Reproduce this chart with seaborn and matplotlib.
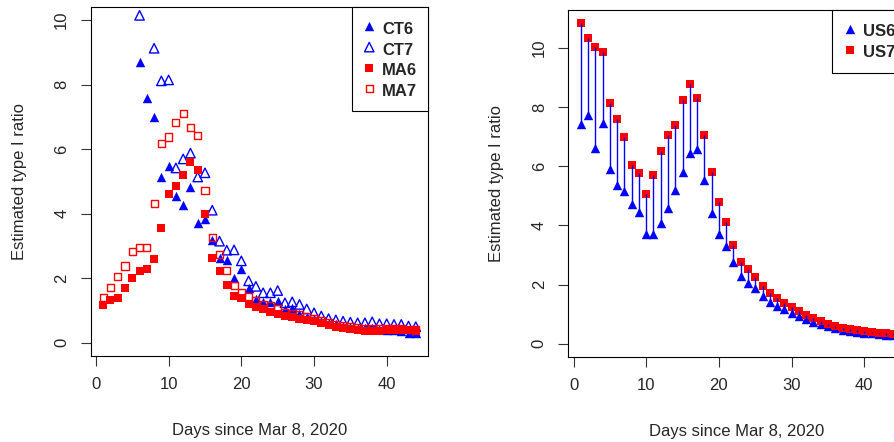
import numpy as np
import pandas as pd
import matplotlib
matplotlib.use("Agg")
import matplotlib.pyplot as plt
import seaborn as sns

nan = np.nan
days = list(range(1, 45))

ct6 = [nan, nan, nan, nan, nan, 8.71, 7.60, 7.00, 5.14, 5.47, 4.55, 4.26, 4.82, 3.72, 3.85,
       3.20, 2.64, 2.57, 2.02, 2.28, 1.70, 1.35, 1.27, 1.26, 1.29, 1.04, 1.07, 0.88, 0.81,
       0.75, 0.68, 0.62, 0.57, 0.52, 0.50, 0.47, 0.45, 0.47, 0.42, 0.40, 0.40, 0.38, 0.30, 0.30]
ct7 = [nan, nan, nan, nan, nan, 10.15, nan, 9.13, 8.12, 8.15, 5.42, 5.70, 5.88, 5.14, 5.27,
       4.11, 3.15, 2.87, 2.88, 2.54, 1.92, 1.75, 1.55, 1.55, 1.62, 1.24, 1.27, 1.19, 1.05,
       0.93, 0.83, 0.75, 0.71, 0.67, 0.64, 0.62, 0.62, 0.65, 0.59, 0.59, 0.57, 0.57, 0.52, 0.50]
ma6 = [1.17, 1.34, 1.40, 1.71, 2.02, 2.22, 2.28, 2.59, 3.56, 4.61, 4.86, 5.20, 5.60, 5.37, 3.99,
       2.63, 2.23, 1.79, 1.46, 1.40, 1.20, 1.12, 1.04, 0.95, 0.88, 0.83, 0.81, 0.75, 0.72,
       0.68, 0.62, 0.55, 0.50, 0.47, 0.43, 0.40, 0.38, 0.36, 0.37, 0.40, 0.41, 0.40, 0.40, 0.37]
ma7 = [1.41, 1.72, 2.06, 2.38, 2.83, 2.96, 2.96, 4.33, 6.17, 6.38, 6.84, 7.11, 6.68, 6.42, 4.73,
       3.25, 2.74, 2.23, 1.77, 1.56, 1.44, 1.32, 1.20, 1.15, 1.05, 0.95, 0.92, 0.88, 0.80,
       0.75, 0.68, 0.62, 0.57, 0.53, 0.50, 0.47, 0.45, 0.44, 0.45, 0.44, 0.44, 0.43, 0.42, 0.41]

us6 = [7.42, 7.74, 6.63, 7.46, 5.90, 5.35, 5.15, 4.71, 4.45, 3.70,
       3.72, 4.08, 4.58, 5.19, 5.80, 6.43, 6.57, 5.55, 4.43, 3.72,
       3.29, 2.78, 2.30, 2.07, 1.88, 1.63, 1.42, 1.29, 1.18, 1.03,
       0.93, 0.83, 0.75, 0.66, 0.60, 0.54, 0.48, 0.44, 0.41, 0.37,
       0.35, 0.33, 0.31, 0.29]
us7 = [10.84, 10.33, 10.03, 9.86, 8.14, 7.58, 6.99, 6.04, 5.77, 5.05,
       5.70, 6.51, 7.05, 7.38, 8.24, 8.78, 8.30, 7.04, 5.80, 4.79,
       4.11, 3.35, 2.77, 2.52, 2.27, 1.96, 1.72, 1.54, 1.37, 1.23,
       1.10, 0.98, 0.88, 0.76, 0.66, 0.60, 0.54, 0.50, 0.46, 0.43,
       0.41, 0.38, 0.36, 0.34]

x_ticks = [0, 10, 20, 30, 40]
y_ticks = [0, 2, 4, 6, 8, 10]
x_label = "Days since Mar 8, 2020"
y_label = "Estimated type I ratio"

sns.set_style("white")
plt.rcParams["font.family"] = ["Liberation Sans", "DejaVu Sans"]
plt.rcParams["axes.linewidth"] = 0.8

W, H = 894, 442
fig = plt.figure(figsize=(W / 100, H / 100), dpi=100)
axL = fig.add_axes([90.7 / W, (H - 355.7) / H, 337.6 / W, 348.4 / H])
axR = fig.add_axes([568.3 / W, (H - 356.7) / H, 337.6 / W, 346.7 / H])

BLUE = "#0000ff"
RED = "#ff0000"
TRI_S = 46
SQ_S = 34

left = pd.DataFrame({"day": days, "CT6": ct6, "CT7": ct7, "MA6": ma6, "MA7": ma7})
right = pd.DataFrame({"day": days, "US6": us6, "US7": us7})

sns.scatterplot(data=left, x="day", y="CT6", ax=axL, marker="^", color=BLUE,
                s=TRI_S, linewidth=0, label="CT6", zorder=3)
sns.scatterplot(data=left, x="day", y="CT7", ax=axL, marker="^", color=BLUE,
                facecolors="none", edgecolor=BLUE, s=TRI_S, linewidth=1.0,
                label="CT7", zorder=3)
sns.scatterplot(data=left, x="day", y="MA6", ax=axL, marker="s", color=RED,
                s=SQ_S, linewidth=0, label="MA6", zorder=3)
sns.scatterplot(data=left, x="day", y="MA7", ax=axL, marker="s", color=RED,
                facecolors="none", edgecolor=RED, s=26, linewidth=1.0,
                label="MA7", zorder=3)

sns.scatterplot(data=right, x="day", y="US6", ax=axR, marker="^", color=BLUE,
                s=TRI_S, linewidth=0, label="US6", zorder=3)
sns.scatterplot(data=right, x="day", y="US7", ax=axR, marker="s", color=RED,
                s=SQ_S + 6, linewidth=0, label="US7", zorder=3)
axR.vlines(right["day"], right["US6"], right["US7"], colors=BLUE, linewidth=1.0, zorder=4)

for ax, ylim in ((axL, (-0.4, 10.4)), (axR, (-0.434, 11.274))):
    ax.set_xlim(-0.72, 45.72)
    ax.set_ylim(*ylim)
    ax.set_xticks(x_ticks)
    ax.set_yticks(y_ticks)
    ax.tick_params(axis="both", which="both", direction="out", length=7.5, width=0.8,
                   color="#333333", labelsize=12, pad=8, bottom=True, left=True)
    plt.setp(ax.get_yticklabels(), rotation=90, va="center")
    for sp in ax.spines.values():
        sp.set_visible(True)
        sp.set_color("black")
        sp.set_linewidth(0.8)
    ax.set_xlabel(x_label, fontsize=12)
    ax.set_ylabel(y_label, fontsize=12)
    ax.xaxis.set_label_coords(0.5, -0.215)
    ax.xaxis.label.set_va("center")
    ax.yaxis.set_label_coords(-0.212, 0.5)
    ax.yaxis.label.set_va("center")
    leg = ax.legend(loc="upper right", borderaxespad=0, fancybox=False, frameon=True,
                    edgecolor="black", framealpha=1, prop={"weight": "bold", "size": 12},
                    handlelength=0.75, handleheight=1.45, handletextpad=0.4,
                    borderpad=0.66, labelspacing=0.06, scatterpoints=1)
    leg.get_frame().set_linewidth(0.8)

fig.savefig("out.png", dpi=100)
